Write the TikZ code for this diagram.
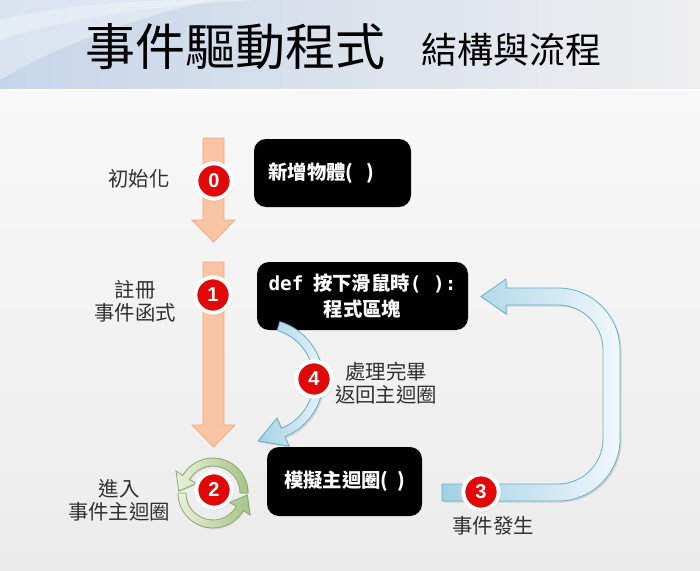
\documentclass[tikz,border=0pt]{standalone}
\usepackage{fontspec}
\setmainfont{Liberation Sans}
\newfontfamily\cjk{Noto Sans CJK TC}
\newfontfamily\codefont{DejaVu Sans Mono}
\usetikzlibrary{shadows}

\definecolor{bandblue}{HTML}{C6D6E9}
\definecolor{bandgray}{HTML}{EFEFF0}
\definecolor{pagetop}{HTML}{F8F8F9}
\definecolor{pagelow}{HTML}{ECECEC}
\definecolor{peach}{HTML}{F9C4A1}
\definecolor{peachlight}{HTML}{FDE6D6}
\definecolor{peachline}{HTML}{F0AA80}
\definecolor{skydark}{HTML}{A2D0E5}
\definecolor{skylight}{HTML}{F0F8FB}
\definecolor{skyline}{HTML}{69AEC8}
\definecolor{leaf}{HTML}{A7C387}
\definecolor{leaflight}{HTML}{E8F1DB}
\definecolor{leafline}{HTML}{8CA967}
\definecolor{badgered}{HTML}{E00808}
\definecolor{labelgray}{HTML}{303030}

\tikzset{
  codebox/.style={fill=black, rounded corners=9pt, text=white, align=center,
    inner sep=0pt, font=\cjk\bfseries\fontsize{14.5}{19.5}\selectfont},
  badge/.style={circle, fill=badgered, draw=white, line width=3pt,
    minimum size=26.5pt, inner sep=0pt, text=white,
    font=\bfseries\fontsize{15}{15}\selectfont,
    circular drop shadow={opacity=0.35, shadow xshift=0.4pt, shadow yshift=-0.8pt}},
  steplabel/.style={text=labelgray, align=center, inner sep=0pt,
    font=\cjk\fontsize{15.3}{17.25}\selectfont},
  peacharrow/.style={draw=peachline, line width=0.6pt,
    left color=peach, middle color=peachlight, right color=peach},
  skyarrow/.style={draw=skyline, line width=0.6pt, left color=skydark, right color=skylight,
    drop shadow={opacity=0.25, shadow xshift=1.2pt, shadow yshift=-1.2pt}},
  leafarrow/.style={draw=leafline, line width=0.6pt, left color=leaflight, right color=leaf,
    drop shadow={opacity=0.2, shadow xshift=0.8pt, shadow yshift=-0.8pt}}
}

\begin{document}
\begin{tikzpicture}[x=0.75pt,y=-0.75pt]
\useasboundingbox (0,0) rectangle (700,571);

% background
\shade[top color=pagetop, bottom color=pagelow] (0,89) rectangle (700,571);
\shade[left color=bandblue, right color=bandgray] (0,0) rectangle (700,89);
\fill[white, opacity=0.35] (0,0) -- (215,0) .. controls (120,20) and (40,55) .. (0,80) -- cycle;
\fill[white, opacity=0.3] (0,20) .. controls (60,5) and (150,-2) .. (240,0) -- (260,0) .. controls (150,5) and (60,20) .. (0,40) -- cycle;
\draw[white, line width=1.5pt] (0,90) -- (700,90);

% title
\node[font=\cjk\fontsize{37.5}{40}\selectfont, inner sep=0pt] (title) at (235,47) {事件驅動程式};
\node[font=\cjk\fontsize{27}{30}\selectfont, inner sep=0pt] (subtitle) at (511,50) {結構與流程};

% orange flow arrows
\foreach \top/\neck/\tip in {138/220/242, 262/425/447}{
\draw[peacharrow] (203,\top) -- (224,\top) -- (224,\neck) -- (235,\neck)
  -- (213.5,\tip) -- (192,\neck) -- (203,\neck) -- cycle;
}

% code boxes
\node[codebox, minimum width=117.75pt, minimum height=51pt, text width=96pt,
  inner xsep=10.5pt, align=left] (create) at (332.5,173) {新增物體(~~)};
\node[codebox, minimum width=158.25pt, minimum height=51pt] (handler) at (362.5,296)
  {{\codefont def}\hspace{0.5em}按下滑鼠時{\codefont( ):}\\程式區塊};
\node[codebox, minimum width=116.25pt, minimum height=51.75pt] (mainloop) at (344.5,481.5) {模擬主迴圈(~~)};

% event arrow (3)
\draw[skyarrow] (442,484) -- (558,484) arc[start angle=90, end angle=0, radius=45]
  -- (603,350) arc[start angle=0, end angle=-90, radius=45]
  -- (506,305) -- (506,314) -- (481,296.5) -- (506,279) -- (506,288) -- (558,288)
  arc[start angle=-90, end angle=0, radius=62]
  -- (620,439) arc[start angle=0, end angle=90, radius=62]
  -- (442,501) -- cycle;

% return arrow (4)
\draw[skyarrow] (277.2,330.3) arc[start angle=-73, end angle=68, radius=52]
  -- (277,418) -- (258,441) -- (289,446) -- (284.9,436.6)
  arc[start angle=68, end angle=-73, radius=61] -- cycle;

% main loop circle arrows
\foreach \turn in {0,180}{
\draw[leafarrow, rotate around={\turn:(213,493)}] (248,493)
  arc[start angle=0, end angle=-150, radius=35]
  -- (176,471) -- (178.7,491) -- (196.5,483.5) -- (189.6,479.5)
  arc[start angle=-150, end angle=0, radius=27] -- cycle;
}

% step badges
\node[badge] (b0) at (214,181) {0};
\node[badge] (b1) at (213,295) {1};
\node[badge] (b2) at (214,490) {2};
\node[badge] (b3) at (481,492) {3};
\node[badge] (b4) at (314,379) {4};

% step labels
\node[steplabel] (init) at (139,179) {初始化};
\node[steplabel] (register) at (135,301) {註冊\\事件函式};
\node[steplabel] (enter) at (119,500) {進入\\事件主迴圈};
\node[steplabel] (back) at (386,383) {處理完畢\\返回主迴圈};
\node[steplabel] (happen) at (493,526) {事件發生};
\end{tikzpicture}
\end{document}
